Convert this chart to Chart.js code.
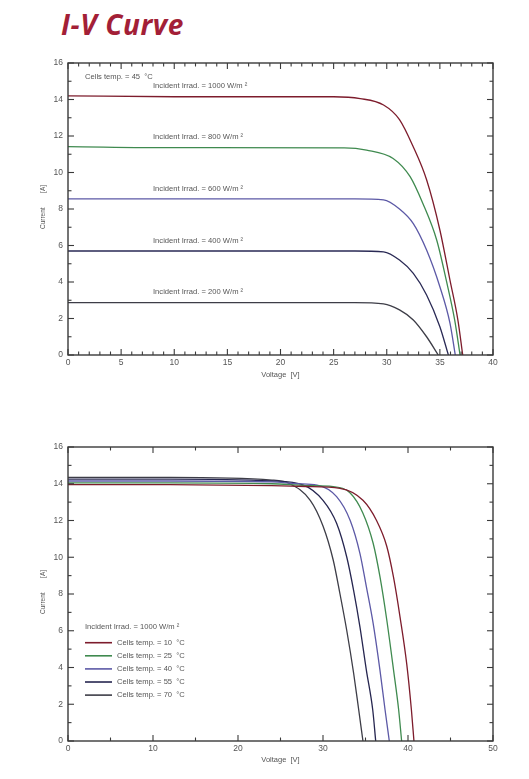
<!DOCTYPE html>
<html>
<head>
<meta charset="utf-8">
<script src="https://cdn.jsdelivr.net/npm/chart.js@4.4.1/dist/chart.umd.min.js"></script>
<style>
  html, body { margin: 0; padding: 0; background: #fff; width: 529px; height: 779px; overflow: hidden; }
  #title { position: absolute; left: 61px; top: 5px; font-family: "Open Sans", sans-serif; font-weight: 700; font-style: italic; font-size: 28px; color: #a31f37; letter-spacing: 0.6px; }
  canvas { position: absolute; left: 0; }
  #c1 { top: 50px; }
  #c2 { top: 430px; }
</style>
</head>
<body>
<div id="title">I-V Curve</div>
<canvas id="c1" width="529" height="340"></canvas>
<canvas id="c2" width="529" height="349"></canvas>
<script>
// ---------- Top chart: irradiance series (cells temp 45 °C) ----------
const irrLabels = ["Incident Irrad. = 1000 W/m ²", "Incident Irrad. = 800 W/m ²", "Incident Irrad. = 600 W/m ²", "Incident Irrad. = 400 W/m ²", "Incident Irrad. = 200 W/m ²"];
const irrColors = ["#7d1c2c", "#3f8a4f", "#5c59a6", "#2a2a55", "#3d3d47"];

const v1000 = [0, 10, 25, 27.5, 29.7, 31.2, 32.5, 33.75, 35.0, 35.95, 36.7, 37.15];
const i1000 = [14.2, 14.15, 14.15, 14.05, 13.7, 12.9, 11.4, 9.6, 6.85, 4.1, 1.9, 0];
const v800 = [0, 10, 26, 28.1, 30.6, 32.2, 33.4, 34.7, 35.6, 36.4, 36.9];
const i800 = [11.42, 11.36, 11.35, 11.23, 10.77, 9.77, 8.3, 6.3, 4.1, 1.9, 0];
const v600 = [0, 27, 29.7, 31.2, 32.5, 33.75, 35.0, 35.95, 36.45];
const i600 = [8.55, 8.55, 8.5, 8.0, 7.2, 5.75, 3.74, 1.75, 0];
const v400 = [0, 27, 29.7, 31.2, 32.5, 33.75, 35.0, 35.8];
const i400 = [5.7, 5.7, 5.65, 5.2, 4.47, 3.29, 1.55, 0];
const v200 = [0, 27, 29.7, 31.2, 32.5, 33.75, 34.85];
const i200 = [2.87, 2.87, 2.8, 2.47, 1.92, 1.0, 0];

// ---------- Bottom chart: temperature series (1000 W/m²) ----------
const tempLabels = ["Cells temp. = 10  °C", "Cells temp. = 25  °C", "Cells temp. = 40  °C", "Cells temp. = 55  °C", "Cells temp. = 70  °C"];
const tempColors = ["#7d1c2c", "#3f8a4f", "#5c59a6", "#262650", "#3d3d47"];

const v10 = [0, 12, 24, 28, 32, 34.7, 36.3, 37.5, 38.3, 39.06, 39.85, 40.4, 40.7];
const i10 = [13.95, 13.95, 13.9, 13.85, 13.75, 13.1, 12.0, 10.6, 8.9, 6.76, 4.2, 1.7, 0];
const v25 = [0, 12, 24, 28, 31.2, 33.2, 34.7, 35.9, 36.7, 37.5, 38.3, 38.9, 39.25];
const i25 = [14.05, 14.05, 14.0, 13.9, 13.84, 13.5, 12.4, 10.76, 8.94, 6.6, 3.86, 1.7, 0];
const v40 = [0, 12, 24, 27, 29.3, 31.6, 33.2, 34.35, 35.1, 35.9, 36.7, 37.3, 37.8];
const i40 = [14.15, 14.15, 14.1, 14.0, 13.93, 13.3, 12.0, 10.2, 8.4, 6.4, 3.86, 1.7, 0];
const v55 = [0, 12, 24, 27.7, 30.0, 31.6, 32.8, 33.6, 34.35, 35.1, 35.85, 36.2];
const i55 = [14.25, 14.25, 14.15, 13.93, 13.1, 11.85, 10.0, 8.2, 6.2, 3.86, 1.7, 0];
const v70 = [0, 12, 24, 26.1, 28.5, 30.0, 31.2, 32.0, 32.8, 33.6, 34.2, 34.7];
const i70 = [14.35, 14.35, 14.2, 14.0, 13.1, 11.7, 9.85, 8.0, 6.0, 3.7, 1.7, 0];

const xTitle = "Voltage  [V]";
const yTitle = "Current        [A]";

const TXT = "#555";
const FONT = "Liberation Sans, Arial, sans-serif";

function pts(vs, is) { return vs.map((v, k) => ({ x: v, y: is[k] })); }
function ds(label, color, vs, is) {
  return { label, data: pts(vs, is), borderColor: color, backgroundColor: color, borderWidth: 1.3,
           pointRadius: 0, cubicInterpolationMode: 'monotone', fill: false };
}

function line(ctx, x1, y1, x2, y2) { ctx.beginPath(); ctx.moveTo(x1, y1); ctx.lineTo(x2, y2); ctx.stroke(); }
function isMult(v, m) { return Math.abs(v / m - Math.round(v / m)) < 1e-6; }

const framePlugin = {
  id: 'frame',
  afterDraw(chart, args, o) {
    const { ctx, chartArea: a, scales: { x, y } } = chart;
    ctx.save();
    ctx.strokeStyle = "#3a3a3a";
    ctx.lineWidth = 1.4;
    ctx.strokeRect(a.left, a.top, a.right - a.left, a.bottom - a.top);
    ctx.lineWidth = 1.1;
    for (let v = x.min; v <= x.max + 1e-9; v += o.xMinor) {
      const px = x.getPixelForValue(v);
      const len = isMult(v, o.xMajor) ? 6 : 3.5;
      line(ctx, px, a.bottom, px, a.bottom - len);
      line(ctx, px, a.top, px, a.top + len);
    }
    for (let v = y.min; v <= y.max + 1e-9; v += o.yMinor) {
      const py = y.getPixelForValue(v);
      const len = isMult(v, o.yMajor) ? 6 : 3.5;
      line(ctx, a.left, py, a.left + len, py);
      line(ctx, a.right, py, a.right - len, py);
    }
    // axis titles
    ctx.fillStyle = TXT;
    ctx.font = "7.5px " + FONT;
    ctx.textAlign = "center";
    ctx.textBaseline = "middle";
    ctx.fillText(xTitle, (a.left + a.right) / 2, a.bottom + o.xTitleOff);
    ctx.save();
    ctx.translate(43, (a.top + a.bottom) / 2 - 2);
    ctx.rotate(-Math.PI / 2);
    ctx.font = "6.5px " + FONT;
    ctx.fillText(yTitle, 0, 0);
    ctx.restore();
    // annotations
    ctx.font = "7.6px " + FONT;
    ctx.textAlign = "left";
    (o.notes || []).forEach(n => {
      ctx.fillText(n.text, x.getPixelForValue(n.x), y.getPixelForValue(n.y));
    });
    // legend
    if (o.legend) {
      const L = o.legend;
      const lx = x.getPixelForValue(L.x);
      let ly = y.getPixelForValue(L.y);
      ctx.fillText(L.title, lx, ly);
      chart.data.datasets.forEach((d, k) => {
        const yy = ly + 16 + k * 13.1;
        ctx.strokeStyle = d.borderColor;
        ctx.lineWidth = 1.6;
        line(ctx, lx, yy, lx + 27, yy);
        ctx.fillText(d.label, lx + 32, yy);
      });
    }
    ctx.restore();
  }
};

function options(xMax, xStep, padTop, xH, frame) {
  return {
    responsive: false,
    animation: false,
    layout: { padding: { top: padTop, right: 36, left: 0, bottom: 0 } },
    plugins: { legend: { display: false }, tooltip: { enabled: false }, frame },
    scales: {
      x: {
        type: 'linear', min: 0, max: xMax,
        ticks: { stepSize: xStep, color: TXT, font: { size: 8.5, family: FONT }, padding: 3, maxRotation: 0 },
        grid: { display: false, drawTicks: false }, border: { display: false },
        afterFit: s => { s.height = xH; }
      },
      y: {
        type: 'linear', min: 0, max: 16,
        ticks: { stepSize: 2, color: TXT, font: { size: 8.5, family: FONT }, padding: 5 },
        grid: { display: false, drawTicks: false }, border: { display: false },
        afterFit: s => { s.width = 68; }
      }
    }
  };
}

new Chart(document.getElementById('c1'), {
  type: 'line',
  data: { datasets: [
    ds(irrLabels[0], irrColors[0], v1000, i1000),
    ds(irrLabels[1], irrColors[1], v800, i800),
    ds(irrLabels[2], irrColors[2], v600, i600),
    ds(irrLabels[3], irrColors[3], v400, i400),
    ds(irrLabels[4], irrColors[4], v200, i200)
  ] },
  options: options(40, 5, 13, 35, {
    xMinor: 1, xMajor: 5, yMinor: 1, yMajor: 2, xTitleOff: 20,
    notes: [
      { text: "Cells temp. = 45  °C", x: 1.6, y: 15.23 },
      { text: irrLabels[0], x: 8.0, y: 14.74 },
      { text: irrLabels[1], x: 8.0, y: 11.95 },
      { text: irrLabels[2], x: 8.0, y: 9.12 },
      { text: irrLabels[3], x: 8.0, y: 6.27 },
      { text: irrLabels[4], x: 8.0, y: 3.43 }
    ]
  }),
  plugins: [framePlugin]
});

new Chart(document.getElementById('c2'), {
  type: 'line',
  data: { datasets: [
    ds(tempLabels[0], tempColors[0], v10, i10),
    ds(tempLabels[1], tempColors[1], v25, i25),
    ds(tempLabels[2], tempColors[2], v40, i40),
    ds(tempLabels[3], tempColors[3], v55, i55),
    ds(tempLabels[4], tempColors[4], v70, i70)
  ] },
  options: options(50, 10, 17, 38, {
    xMinor: 5, xMajor: 10, yMinor: 1, yMajor: 2, xTitleOff: 19,
    legend: { title: "Incident Irrad. = 1000 W/m ²", x: 2.0, y: 6.22 }
  }),
  plugins: [framePlugin]
});
</script>
</body>
</html>
